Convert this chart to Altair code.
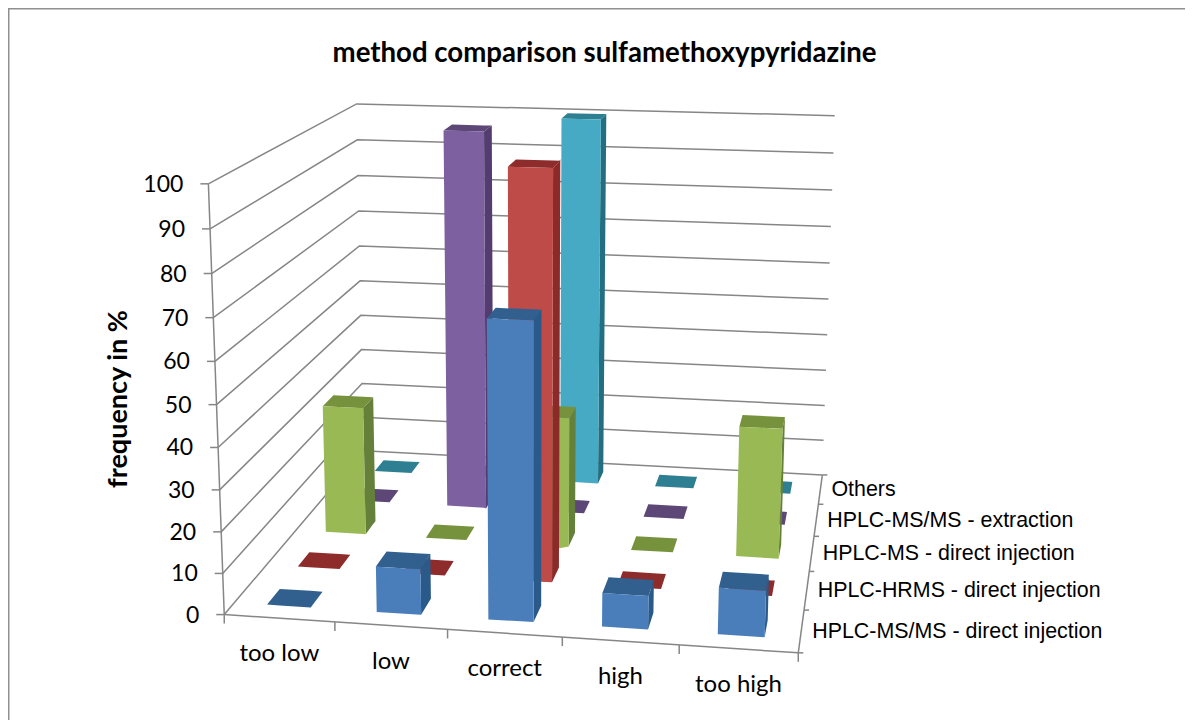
import numpy as np
import pandas as pd
import altair as alt

TITLE = "method comparison sulfamethoxypyridazine"
Y_TITLE = "frequency in %"
CATEGORIES = ["too low", "low", "correct", "high", "too high"]
SERIES = ["HPLC-MS/MS - direct injection", "HPLC-HRMS - direct injection",
          "HPLC-MS - direct injection", "HPLC-MS/MS - extraction", "Others"]
MSMS_DIRECT = [0, 11, 70.5, 8, 11]
HRMS_DIRECT = [0, 0, 100, 0, 0]
MS_DIRECT = [33.3, 0, 33.3, 0, 33.3]
MSMS_EXTRACTION = [0, 100, 0, 0, 0]
OTHERS = [0, 0, 100, 0, 0]
VALUES = [MSMS_DIRECT, HRMS_DIRECT, MS_DIRECT, MSMS_EXTRACTION, OTHERS]
Y_TICKS = list(range(0, 101, 10))

FRONT = ["#4a7ebb", "#be4b48", "#98b954", "#7d60a0", "#46aac5"]
TOP = ["#31608f", "#8e2b2b", "#76923c", "#5c4776", "#2f7f93"]
SIDE = ["#2a5a8a", "#8b2a28", "#65803a", "#533c6f", "#236e80"]
AXIS_COLOR = "#868686"
BAR_FROM, BAR_TO = 0.3, 0.7

# camera calibration: (category pos, series depth, value) -> page pixel
CAMERA = [((0, 0, 0), (225, 615)), ((5, 0, 0), (797, 653)), ((0, 5, 0), (363.5, 450)),
          ((5, 5, 0), (822, 475)), ((0, 0, 100), (209, 183)), ((0, 5, 100), (356, 104)),
          ((5, 5, 100), (835, 116)), ((0, 5, 20), (362, 384)), ((5, 5, 20), (824, 406)),
          ((1, 0, 0), (335, 622)), ((2, 0, 0), (447, 630)), ((3, 0, 0), (562, 638)),
          ((4, 0, 0), (678, 645)), ((5, 1, 0), (805, 609)), ((5, 2, 0), (810, 571)),
          ((5, 3, 0), (815, 536)), ((5, 4, 0), (819, 504))]


def fit_camera(pairs):
    a, b = [], []
    for (x, z, y), (u, v) in pairs:
        a.append([x, z, y, 1, 0, 0, 0, 0, -u * x, -u * z, -u * y])
        a.append([0, 0, 0, 0, x, z, y, 1, -v * x, -v * z, -v * y])
        b += [u, v]
    p = np.linalg.lstsq(np.array(a, float), np.array(b, float), rcond=None)[0]
    return np.append(p, 1).reshape(3, 4)


P = fit_camera(CAMERA)


def proj(x, z, y):
    u, v, w = P @ np.array([x, z, y, 1.0])
    return float(u / w), float(v / w)


def quad_rows(face, pts, color):
    xs = sorted({round(p[0], 2) for p in pts})
    rows = []
    n = len(pts)
    for x in xs:
        ys = []
        for i in range(n):
            (x0, y0), (x1, y1) = pts[i], pts[(i + 1) % n]
            lo, hi = min(x0, x1) - 0.006, max(x0, x1) + 0.006
            if lo <= x <= hi:
                if abs(x1 - x0) < 0.01:
                    ys += [y0, y1]
                else:
                    ys.append(y0 + (y1 - y0) * (x - x0) / (x1 - x0))
        if ys:
            rows.append(dict(face=face, x=x, y=min(ys), y2=max(ys), color=color))
    return rows


faces = []
fid = 0
for s in range(4, -1, -1):
    for c in range(5):
        v = VALUES[s][c]
        x0, x1, z0, z1 = c + BAR_FROM, c + BAR_TO, s + BAR_FROM, s + BAR_TO
        polys = []
        if v > 0:
            polys.append(([proj(x1, z0, 0), proj(x1, z1, 0), proj(x1, z1, v), proj(x1, z0, v)], SIDE[s]))
        polys.append(([proj(x0, z0, v), proj(x1, z0, v), proj(x1, z1, v), proj(x0, z1, v)], TOP[s]))
        if v > 0:
            polys.append(([proj(x0, z0, 0), proj(x1, z0, 0), proj(x1, z0, v), proj(x0, z0, v)], FRONT[s]))
        for pts, col in polys:
            fid += 1
            faces += quad_rows(f"f{fid:03d}", pts, col)
faces = pd.DataFrame(faces)

# axis and grid lines
lines = []
lid = 0


def add_line(*pts):
    global lid
    lid += 1
    for i, (u, v) in enumerate(pts):
        lines.append(dict(line=f"l{lid:03d}", i=i, x=u, y=v))


for t in Y_TICKS:
    add_line(proj(0, 0, t), proj(0, 5, t), proj(5, 5, t))
    u, v = proj(0, 0, t)
    add_line((u - 8, v), (u, v))
add_line(proj(0, 0, 0), proj(0, 0, 100))
add_line(proj(0, 0, 0), proj(5, 0, 0))
add_line(proj(5, 0, 0), proj(5, 5, 0))
for c in range(6):
    u, v = proj(c, 0, 0)
    add_line((u, v), (u, v + 9))
for s in range(6):
    u, v = proj(5, s, 0)
    add_line((u, v), (u + 5, v))
lines = pd.DataFrame(lines)

# the picture's border shows along its top and left edges only
frame = pd.DataFrame([
    dict(line="fr", i=0, x=1185, y=8.5), dict(line="fr", i=1, x=8.5, y=8.5),
    dict(line="fr", i=2, x=8.5, y=720)])

ylab = []
for t in Y_TICKS:
    u, v = proj(0, 0, t)
    ylab.append(dict(x=u - 25, y=v + 1, text=str(t)))
ylab = pd.DataFrame(ylab)
clab = []
for c, name in enumerate(CATEGORIES):
    u, v = proj(c + 0.5, 0, 0)
    clab.append(dict(x=u, y=v + 36, text=name))
clab = pd.DataFrame(clab)
slab = []
for s, name in enumerate(SERIES):
    u, v = proj(5, s + 0.5, 0)
    slab.append(dict(x=u + 11, y=v + 1, text=name))
slab = pd.DataFrame(slab)

X = alt.X("x:Q", scale=alt.Scale(domain=[8, 1185], nice=False, zero=False), axis=None)
Y = alt.Y("y:Q", scale=alt.Scale(domain=[720, 8], nice=False, zero=False), axis=None)

frame_l = alt.Chart(frame).mark_line(color="#8f8f8f", strokeWidth=2).encode(X, Y, order="i:Q")
grid_l = alt.Chart(lines).mark_line(color=AXIS_COLOR, strokeWidth=1.5).encode(X, Y, detail="line:N", order="i:Q")
bars_l = alt.Chart(faces).mark_area(interpolate="linear").encode(
    X, Y, y2="y2:Q", detail="face:N", color=alt.Color("color:N", scale=None))
ylab_l = alt.Chart(ylab).mark_text(font="Lato", fontSize=23, align="right", baseline="middle", color="#000").encode(X, Y, text="text:N")
clab_l = alt.Chart(clab).mark_text(font="Lato", fontSize=24, align="center", baseline="middle", color="#000").encode(X, Y, text="text:N")
slab_l = alt.Chart(slab).mark_text(font="Liberation Sans", fontSize=21.4, align="left", baseline="middle", color="#000").encode(X, Y, text="text:N")
title_l = alt.Chart(pd.DataFrame([dict(x=604.5, y=54, text=TITLE)])).mark_text(
    font="Lato", fontSize=27.6, fontWeight="bold", color="#000").encode(X, Y, text="text:N")
ytitle_l = alt.Chart(pd.DataFrame([dict(x=119, y=399, text=Y_TITLE)])).mark_text(
    font="Lato", fontSize=27, fontWeight="bold", angle=270, color="#000").encode(X, Y, text="text:N")

chart = alt.layer(frame_l, grid_l, bars_l, ylab_l, clab_l, slab_l, title_l, ytitle_l).properties(
    width=1177, height=712, padding=0, autosize="none", background="white"
).configure_view(stroke=None)

chart.save("out.html", embed_options={"renderer": "svg", "actions": False})
